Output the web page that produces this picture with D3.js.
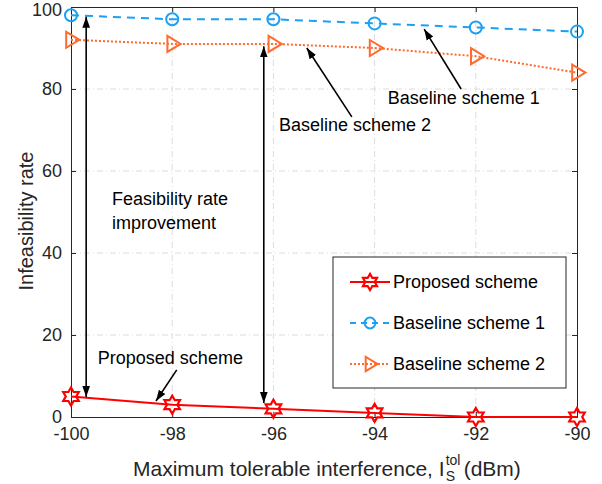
<!DOCTYPE html>
<html>
<head>
<meta charset="utf-8">
<script src="https://cdn.jsdelivr.net/npm/d3@7"></script>
<style>
body { margin: 0; background: #fff; }
text { font-family: "Liberation Sans", Arial, sans-serif; fill: #262626; }
</style>
</head>
<body>
<script>
const width = 602;
const height = 484;
const margin = {left: 71, right: 25, top: 7, bottom: 67};

const xValues = [-100, -98, -96, -94, -92, -90];
const proposed = [5, 3, 2, 1, 0, 0];
const baseline1 = [98, 97, 97, 96, 95, 94];
const baseline2 = [92, 91, 91, 90, 88, 84];
const yTicks = [0, 20, 40, 60, 80, 100];
const seriesNames = ['Proposed scheme', 'Baseline scheme 1', 'Baseline scheme 2'];

const svg = d3.select('body')
  .append('svg')
  .attr('width', width)
  .attr('height', height)

const x = d3.scaleLinear().domain([-100, -90]).range([margin.left, width - margin.right])
const y = d3.scaleLinear().domain([0, 100]).range([height - margin.bottom, margin.top])

const defs = svg.append('defs')
defs.append('marker')
  .attr('id', 'head')
  .attr('viewBox', '0 0 10 10')
  .attr('refX', 10).attr('refY', 5)
  .attr('markerWidth', 11).attr('markerHeight', 11)
  .attr('markerUnits', 'userSpaceOnUse')
  .attr('orient', 'auto-start-reverse')
  .append('path')
  .attr('d', 'M0,1.5 L10,5 L0,8.5 Z')
  .attr('fill', '#000')

// grid
svg.append('g')
  .selectAll('line')
  .data(xValues.slice(1, -1))
  .enter().append('line')
  .attr('x1', d => x(d)).attr('x2', d => x(d))
  .attr('y1', y(0)).attr('y2', y(100))
  .attr('stroke', '#dcdcdc').attr('stroke-dasharray', '6,3,1,3')
svg.append('g')
  .selectAll('line')
  .data(yTicks.slice(1, -1))
  .enter().append('line')
  .attr('y1', d => y(d)).attr('y2', d => y(d))
  .attr('x1', x(-100)).attr('x2', x(-90))
  .attr('stroke', '#dcdcdc').attr('stroke-dasharray', '6,3,1,3')

// axes
const fmt = d => String(d)
const xAxis = d3.axisBottom(x).tickValues(xValues).tickSize(-5).tickPadding(10).tickFormat(fmt)
const yAxis = d3.axisLeft(y).tickValues(yTicks).tickSize(-5).tickPadding(9).tickFormat(fmt)

svg.append('g')
  .attr('transform', `translate(0,${y(0)})`)
  .call(xAxis)
const gy = svg.append('g')
  .attr('transform', `translate(${x(-100)},0)`)
  .call(yAxis)
svg.append('g')
  .attr('transform', `translate(0,${y(100)})`)
  .call(d3.axisTop(x).tickValues(xValues).tickSize(-5).tickFormat(''))
svg.append('g')
  .attr('transform', `translate(${x(-90)},0)`)
  .call(d3.axisRight(y).tickValues(yTicks).tickSize(-5).tickFormat(''))

svg.selectAll('.domain').attr('stroke', '#262626').attr('stroke-width', 1)
svg.selectAll('.tick line').attr('stroke', '#262626')
svg.selectAll('.tick text')
  .style('font-family', '"Liberation Sans", Arial, sans-serif')
  .style('font-size', '18px')
  .attr('fill', '#262626')
gy.selectAll('.tick text').filter(d => d === 100).attr('dy', '0.45em')

// axis labels
svg.append('text')
  .attr('transform', 'translate(33,221) rotate(-90)')
  .attr('text-anchor', 'middle')
  .style('font-size', '20px')
  .text('Infeasibility rate')

const xMain = svg.append('text')
  .attr('x', 133).attr('y', 476)
  .style('font-size', '21px')
  .text('Maximum tolerable interference, I')
const xEnd = 133 + xMain.node().getComputedTextLength()
svg.append('text').attr('x', xEnd + 1).attr('y', 465)
  .style('font-size', '14px').text('tol')
svg.append('text').attr('x', xEnd + 1).attr('y', 481)
  .style('font-size', '14px').text('S')
svg.append('text').attr('x', xEnd + 19).attr('y', 476)
  .style('font-size', '21px').text('(dBm)')

// series
const series = [
  {name: seriesNames[0], values: proposed, color: '#ff0000', dash: null, marker: 'star'},
  {name: seriesNames[1], values: baseline1, color: '#1ca0f2', dash: '8,6', marker: 'circle'},
  {name: seriesNames[2], values: baseline2, color: '#ff6a2e', dash: '2,2', marker: 'tri'}
]

const line = d3.line().x((d, i) => x(xValues[i])).y(d => y(d))

function starPath(r) {
  const pts = []
  for (let i = 0; i < 12; i++) {
    const rr = i % 2 === 0 ? r : r * 0.58
    const ang = i * Math.PI / 6
    pts.push([rr * Math.sin(ang), -rr * Math.cos(ang)])
  }
  return 'M' + pts.join('L') + 'Z'
}
function drawMarker(g, s, cx, cy, scale) {
  if (s.marker === 'star') {
    g.append('path').attr('d', starPath(9 * scale))
      .attr('transform', `translate(${cx},${cy})`)
      .attr('fill', 'none').attr('stroke', s.color).attr('stroke-width', 2.2)
  } else if (s.marker === 'circle') {
    g.append('circle').attr('cx', cx).attr('cy', cy).attr('r', 6 * scale)
      .attr('fill', 'none').attr('stroke', s.color).attr('stroke-width', 2)
  } else {
    const r = 8 * scale
    g.append('path').attr('d', `M${-r * 0.6},${-r} L${r * 1.05},0 L${-r * 0.6},${r} Z`)
      .attr('transform', `translate(${cx},${cy})`)
      .attr('fill', 'none').attr('stroke', s.color).attr('stroke-width', 2)
  }
}

series.slice().reverse().forEach(s => {
  svg.append('path')
    .datum(s.values)
    .attr('d', line)
    .attr('fill', 'none')
    .attr('stroke', s.color)
    .attr('stroke-width', 2)
    .attr('stroke-dasharray', s.dash)
  const g = svg.append('g')
  s.values.forEach((v, i) => drawMarker(g, s, x(xValues[i]), y(v), 1))
})

// annotations (data coordinates)
function arrow(x1, y1, x2, y2, both) {
  svg.append('line')
    .attr('x1', x(x1)).attr('y1', y(y1)).attr('x2', x(x2)).attr('y2', y(y2))
    .attr('stroke', '#000').attr('stroke-width', 1.6)
    .attr('marker-end', 'url(#head)')
    .attr('marker-start', both ? 'url(#head)' : null)
}
arrow(-99.7, 4.9, -99.7, 97.6, true)
arrow(-96.19, 3.4, -96.19, 90.4, true)
arrow(-92.29, 80.0, -93.02, 94.6, false)
arrow(-94.45, 73.2, -95.34, 90.0, false)
arrow(-97.91, 11.5, -98.32, 3.9, false)

function label(t, xv, yv) {
  svg.append('text').attr('x', x(xv)).attr('y', y(yv))
    .style('font-size', '18px').style('fill', '#000').text(t)
}
label('Baseline scheme 1', -93.74, 76.3)
label('Baseline scheme 2', -95.89, 69.8)
label('Proposed scheme', -99.47, 12.9)
label('Feasibility rate', -99.19, 51.7)
label('improvement', -99.19, 45.9)

// legend
const lg = svg.append('g').attr('transform', 'translate(333,257)')
lg.append('rect').attr('width', 233).attr('height', 131)
  .attr('fill', '#fff').attr('stroke', '#262626').attr('stroke-width', 1)
series.forEach((s, i) => {
  const cy = 25 + i * 41
  lg.append('line').attr('x1', 17).attr('x2', 57).attr('y1', cy).attr('y2', cy)
    .attr('stroke', s.color).attr('stroke-width', 2)
    .attr('stroke-dasharray', s.dash ? (s.marker === 'circle' ? '6,5' : '2,2') : null)
  drawMarker(lg, s, 37, cy, 0.9)
  lg.append('text').attr('x', 60).attr('y', cy + 6)
    .style('font-size', '18px').style('fill', '#000').text(s.name)
})
</script>
</body>
</html>
